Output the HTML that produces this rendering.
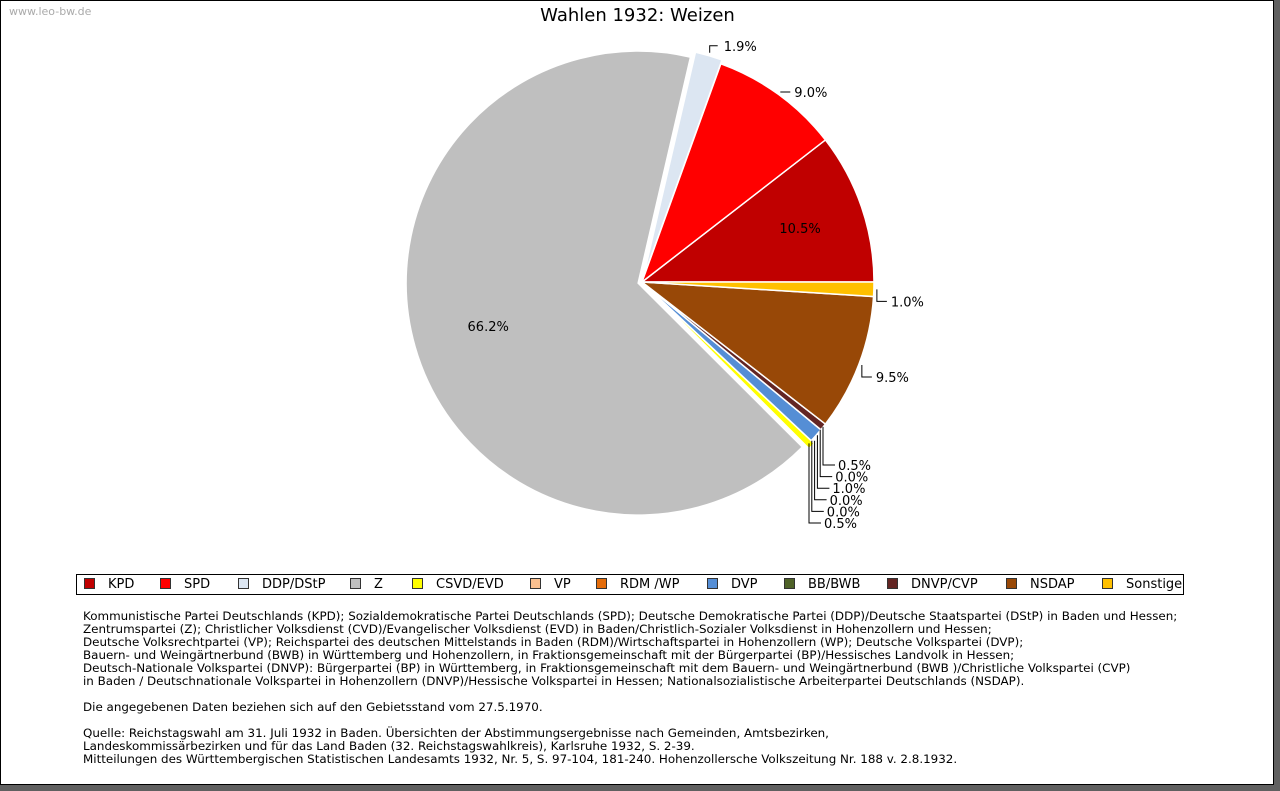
<!DOCTYPE html>
<html><head><meta charset="utf-8"><style>
body{margin:0;width:1280px;height:791px;background:#606060;overflow:hidden;font-family:"DejaVu Sans","Liberation Sans",sans-serif}
#page{position:absolute;left:0;top:0;width:1274px;height:785px;background:#fff;border:1px solid #000;box-sizing:border-box}
#src{position:absolute;left:8px;top:4px;font-size:11px;color:#aaa}
#title{position:absolute;left:0;width:1273px;top:4px;text-align:center;font-size:18px;color:#000}
#legend{position:absolute;left:75px;top:573px;width:1108px;height:21px;border:1px solid #000;box-sizing:border-box;font-size:13px}
.li{position:absolute;top:2px;white-space:nowrap}
.sw{display:inline-block;width:11px;height:11px;border:1px solid #333;box-sizing:border-box;vertical-align:-1px;margin-right:13px}
#notes{position:absolute;left:82px;top:609px;font-size:11.9px;line-height:13px;color:#000;white-space:pre}
</style></head><body>
<div id="page">
<div id="src">www.leo-bw.de</div>
<div id="title">Wahlen 1932: Weizen</div>
<svg id="pie" width="1273" height="560" style="position:absolute;left:0;top:0"></svg>
<div id="legend"></div>
<div id="notes">Kommunistische Partei Deutschlands (KPD); Sozialdemokratische Partei Deutschlands (SPD); Deutsche Demokratische Partei (DDP)/Deutsche Staatspartei (DStP) in Baden und Hessen;
Zentrumspartei (Z); Christlicher Volksdienst (CVD)/Evangelischer Volksdienst (EVD) in Baden/Christlich-Sozialer Volksdienst in Hohenzollern und Hessen;
Deutsche Volksrechtpartei (VP); Reichspartei des deutschen Mittelstands in Baden (RDM)/Wirtschaftspartei in Hohenzollern (WP); Deutsche Volkspartei (DVP);
Bauern- und Weingärtnerbund (BWB) in Württemberg und Hohenzollern, in Fraktionsgemeinschaft mit der Bürgerpartei (BP)/Hessisches Landvolk in Hessen;
Deutsch-Nationale Volkspartei (DNVP): Bürgerpartei (BP) in Württemberg, in Fraktionsgemeinschaft mit dem Bauern- und Weingärtnerbund (BWB )/Christliche Volkspartei (CVP)
in Baden / Deutschnationale Volkspartei in Hohenzollern (DNVP)/Hessische Volkspartei in Hessen; Nationalsozialistische Arbeiterpartei Deutschlands (NSDAP).

Die angegebenen Daten beziehen sich auf den Gebietsstand vom 27.5.1970.

Quelle: Reichstagswahl am 31. Juli 1932 in Baden. Übersichten der Abstimmungsergebnisse nach Gemeinden, Amtsbezirken,
Landeskommissärbezirken und für das Land Baden (32. Reichstagswahlkreis), Karlsruhe 1932, S. 2-39.
Mitteilungen des Württembergischen Statistischen Landesamts 1932, Nr. 5, S. 97-104, 181-240. Hohenzollersche Volkszeitung Nr. 188 v. 2.8.1932.</div>
</div>
<script>
const categories=["KPD","SPD","DDP/DStP","Z","CSVD/EVD","VP","RDM /WP","DVP","BB/BWB","DNVP/CVP","NSDAP","Sonstige"];
const values=[10.5,9.0,1.9,66.2,0.5,0.0,0.0,1.0,0.0,0.5,9.5,1.0];
const colors=["#c00000","#ff0000","#dce6f2","#bfbfbf","#ffff00","#fac090","#e46c0a","#558ed5","#4f6228","#632523","#984807","#ffc000"];
const explode=[0,0,4,4,4,0,0,0,0,0,0,0];
const legendX=[82,158,236,348,410,528,594,705,782,885,1004,1100];
const svg=document.getElementById('pie');const NS='http://www.w3.org/2000/svg';
const cx=641,cy=281,R=232;
const total=values.reduce((a,b)=>a+b,0);
function pt(a,r,ox,oy){return [cx+ox+r*Math.cos(a),cy+oy-r*Math.sin(a)];}
function mk(t,attrs){const e=document.createElementNS(NS,t);for(const k in attrs)e.setAttribute(k,attrs[k]);svg.appendChild(e);return e;}
let a0=0;const mids=[];
values.forEach((v,i)=>{
  const da=v/total*2*Math.PI,a1=a0+da,m=(a0+a1)/2;mids.push([a0,a1,m]);
  const ox=explode[i]*Math.cos(m),oy=-explode[i]*Math.sin(m);
  if(v>0){
    const p0=pt(a0,R,ox,oy),p1=pt(a1,R,ox,oy);
    const p=mk('path',{d:`M${cx+ox},${cy+oy}L${p0[0]},${p0[1]}A${R},${R} 0 ${da>Math.PI?1:0} 0 ${p1[0]},${p1[1]}Z`,fill:colors[i],stroke:'#fff','stroke-width':1.5});
    
    
  }
  a0=a1;
});
function txt(x,y,s,anchor){const t=mk('text',{x:x,y:y,'font-size':13,'text-anchor':anchor||'start',fill:'#000'});t.textContent=s;
  
  return t;}
function line(d){const l=mk('path',{d:d,stroke:'#000','stroke-width':1,fill:'none'});
  
  }
[0,3].forEach(i=>{const m=mids[i][2];const r=i==3?160:0.72*R;const p=pt(m,r,0,0);txt(p[0],p[1]+5,values[i].toFixed(1)+'%','middle');});
[1,2,10,11].forEach(i=>{const m=mids[i][2];const ox=explode[i]*Math.cos(m),oy=-explode[i]*Math.sin(m);const p=pt(m,R+3,ox,oy);
  const ly=(i==2)?p[1]-7:(i==1?p[1]:p[1]+12);const lx=p[0];
  if(i==1){line(`M${lx},${ly}H${lx+10}`);txt(lx+14,ly+5,values[i].toFixed(1)+'%');}
  else if(i==2){line(`M${lx},${p[1]}V${ly}H${lx+8}`);txt(lx+14,ly+5,values[i].toFixed(1)+'%');}
  else{line(`M${lx},${p[1]}V${ly}H${lx+10}`);txt(lx+14,ly+5,values[i].toFixed(1)+'%');}
});
const small=[9,8,7,6,5,4];
small.forEach((i,k)=>{const m=mids[i][2];const p=pt(m,R,0,0);const x=822-k*2.8;const y=464+k*11.6;
  line(`M${x},${p[1]}V${y}H${x+12}`);txt(x+15,y+5,values[i].toFixed(1)+'%');});
const lg=document.getElementById('legend');
categories.forEach((c,i)=>{const d=document.createElement('div');d.className='li';d.style.left=(legendX[i]-75)+'px';
  d.innerHTML=`<span class="sw" style="background:${colors[i]}"></span>${c}`;
  
  lg.appendChild(d);});
</script>
</body></html>
